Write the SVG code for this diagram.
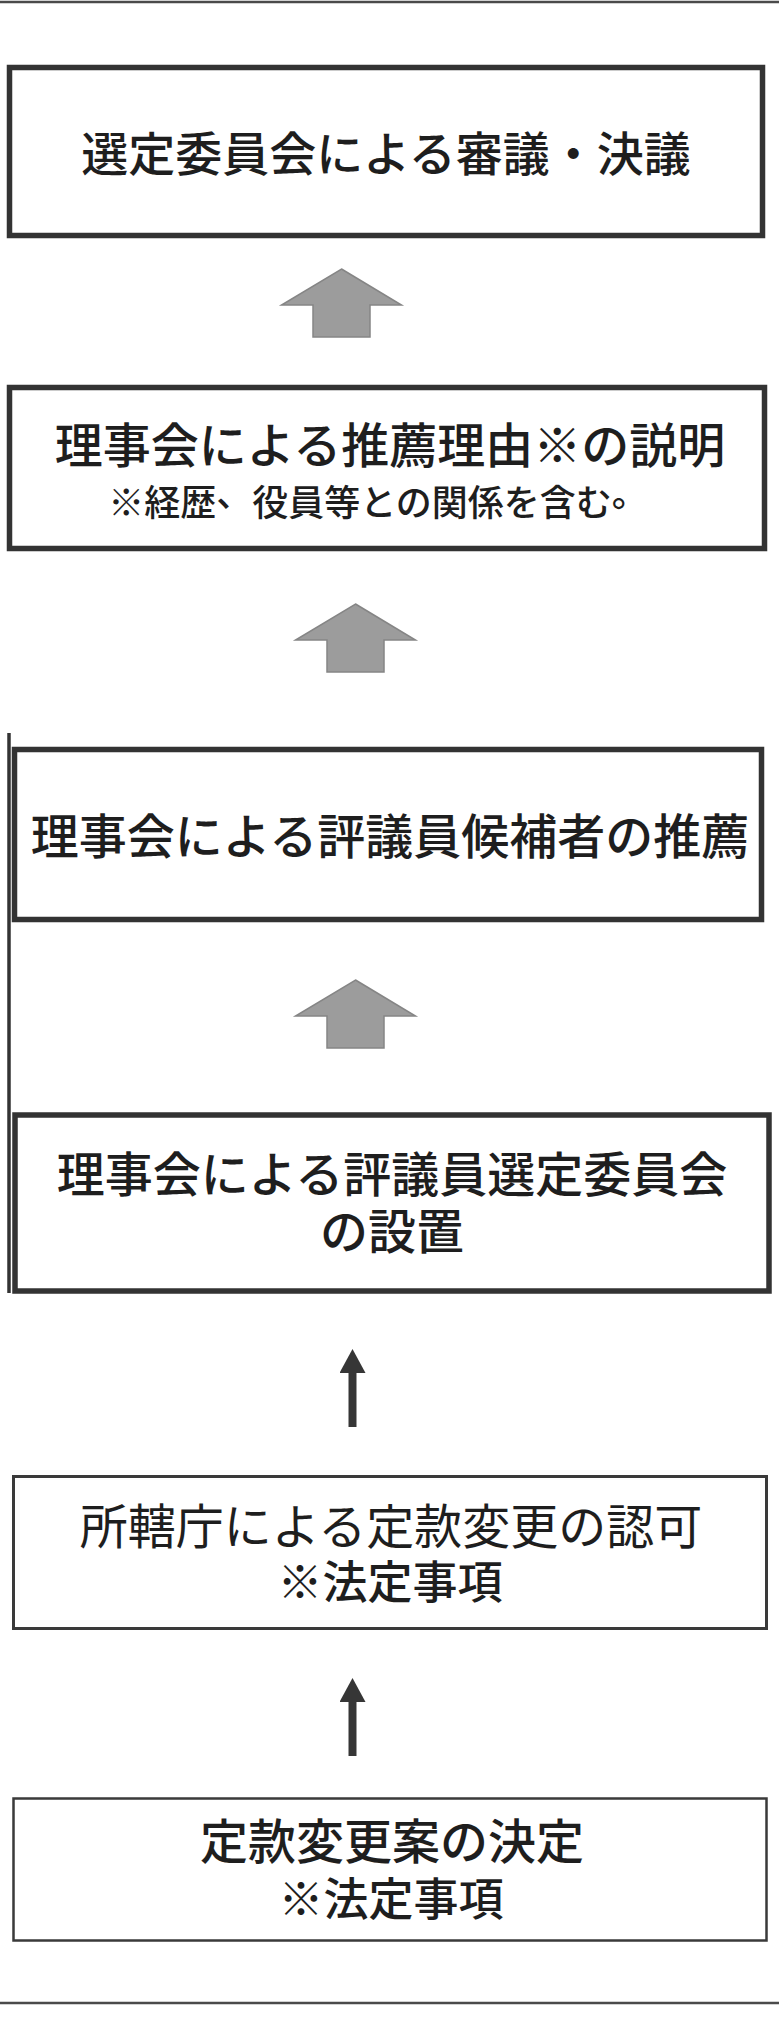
<svg xmlns="http://www.w3.org/2000/svg" width="779" height="2019" viewBox="0 0 779 2019">
  <style>
    .frame-heavy { fill: #ffffff; stroke: #333333; stroke-width: 5.5; }
    .frame-light { fill: #ffffff; stroke: #3a3a3a; stroke-width: 3; }
    .rule { stroke: #4a4a4a; stroke-width: 2.5; fill: none; }
    .t { font-family: "Liberation Sans", "Noto Sans CJK JP", sans-serif; fill: #1e1e1e; text-anchor: middle; dominant-baseline: central; }
    .m { font-weight: 500; }
    .n { font-weight: 400; }
    .block-arrow { fill: #9c9c9c; stroke: #858585; stroke-width: 1.5; stroke-linejoin: miter; }
    .thin-arrow { stroke: #363636; stroke-width: 8; fill: none; }
  </style>
  <defs>
    <marker id="head" markerUnits="userSpaceOnUse" markerWidth="24" markerHeight="26" viewBox="0 0 24 26" refX="0" refY="13" orient="auto">
      <path d="M0,0 L24,13 L0,26 Z" fill="#363636"/>
    </marker>
  </defs>

  <rect width="779" height="2019" fill="#ffffff"/>

  <!-- page rules and the edge of the side title frame -->
  <g id="page-rules">
    <line class="rule" x1="0" y1="2" x2="779" y2="2"/>
    <line class="rule" x1="0" y1="2003" x2="779" y2="2003"/>
    <line x1="9" y1="733" x2="9" y2="1293" stroke="#333333" stroke-width="3.5"/>
  </g>

  <g id="step-decision">
    <rect class="frame-heavy" x="9.5" y="67.5" width="753" height="168"/>
    <text class="t m" x="386" y="154" font-size="47">選定委員会による審議・決議</text>
  </g>

  <g id="step-explanation">
    <rect class="frame-heavy" x="9.5" y="387.5" width="755" height="161"/>
    <text class="t m"><tspan x="390" y="446" font-size="48">理事会による推薦理由※の説明</tspan><tspan x="378" y="503" font-size="36">※経歴</tspan><tspan font-size="36" dy="-9">、</tspan><tspan font-size="36" dy="9">役員等との関係を含む</tspan><tspan font-size="36" dy="-9">。</tspan></text>
  </g>

  <g id="step-recommendation">
    <rect class="frame-heavy" x="14.5" y="749.5" width="747" height="170"/>
    <text class="t m" x="390" y="837" font-size="48">理事会による評議員候補者の推薦</text>
  </g>

  <g id="step-committee">
    <rect class="frame-heavy" x="15" y="1115" width="754" height="176"/>
    <text class="t m" font-size="48"><tspan x="392" y="1175">理事会による評議員選定委員会</tspan><tspan x="392" y="1232">の設置</tspan></text>
  </g>

  <g id="step-approval">
    <rect class="frame-light" x="13.5" y="1476.5" width="753" height="152"/>
    <text class="t"><tspan class="n" x="391" y="1527" font-size="48">所轄庁による定款変更の認可</tspan><tspan class="m" x="390" y="1583" font-size="45">※法定事項</tspan></text>
  </g>

  <g id="step-draft">
    <rect class="frame-light" x="13.5" y="1798.5" width="753" height="142" style="stroke-width:2.5"/>
    <text class="t m"><tspan x="392" y="1842" font-size="48">定款変更案の決定</tspan><tspan x="391" y="1900" font-size="45">※法定事項</tspan></text>
  </g>

  <g id="connectors">
    <polygon class="block-arrow" points="341.5,269 401.5,305 370,305 370,337 313,337 313,305 281.5,305"/>
    <polygon class="block-arrow" points="355.5,604 415.5,640 384,640 384,672 327,672 327,640 295.5,640"/>
    <polygon class="block-arrow" points="355.5,980 415.5,1016 384,1016 384,1048 327,1048 327,1016 295.5,1016"/>
    <line class="thin-arrow" x1="352.5" y1="1427" x2="352.5" y2="1373" marker-end="url(#head)"/>
    <line class="thin-arrow" x1="352.5" y1="1756" x2="352.5" y2="1702" marker-end="url(#head)"/>
  </g>
</svg>
